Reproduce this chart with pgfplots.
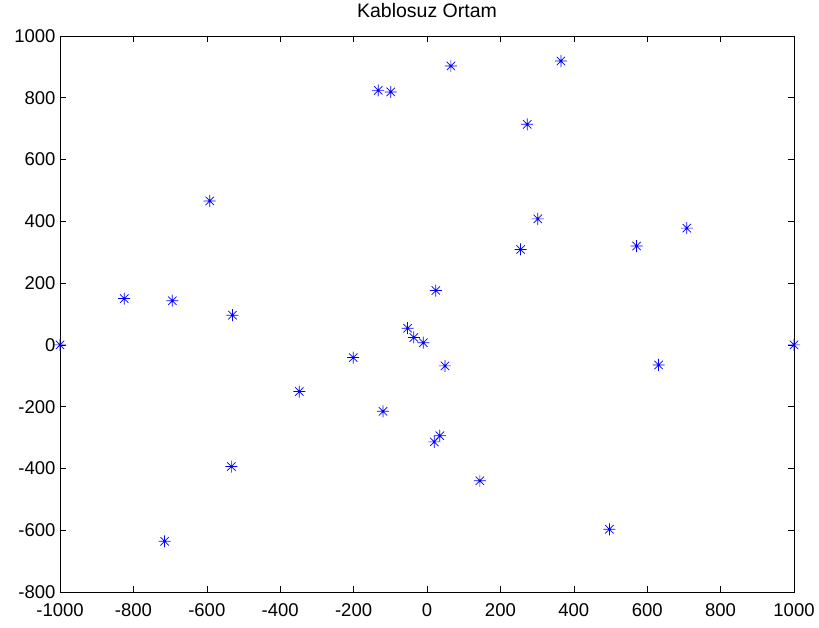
\documentclass[border=0pt]{standalone}
\usepackage{pgfplots}
\pgfplotsset{compat=1.18}
\usepackage{fontspec}
\setmainfont{Liberation Sans}
\pgfdeclareplotmark{mstar}{%
  \pgfpathmoveto{\pgfqpoint{-\pgfplotmarksize}{0pt}}%
  \pgfpathlineto{\pgfqpoint{\pgfplotmarksize}{0pt}}%
  \pgfpathmoveto{\pgfqpoint{0pt}{-\pgfplotmarksize}}%
  \pgfpathlineto{\pgfqpoint{0pt}{\pgfplotmarksize}}%
  \pgfpathmoveto{\pgfqpoint{-0.7\pgfplotmarksize}{-0.7\pgfplotmarksize}}%
  \pgfpathlineto{\pgfqpoint{0.7\pgfplotmarksize}{0.7\pgfplotmarksize}}%
  \pgfpathmoveto{\pgfqpoint{-0.7\pgfplotmarksize}{0.7\pgfplotmarksize}}%
  \pgfpathlineto{\pgfqpoint{0.7\pgfplotmarksize}{-0.7\pgfplotmarksize}}%
  \pgfusepathqstroke}
\begin{document}
\begin{tikzpicture}
\begin{axis}[
  scale only axis, width=734pt, height=556pt,
  xmin=-1000, xmax=1000, ymin=-800, ymax=1000,
  xtick={-1000,-800,...,1000}, ytick={-800,-600,...,1000},
  tick align=inside, major tick length=6pt,
  tick style={black, line width=0.6pt},
  axis line style={line width=0.8pt},
  title={Kablosuz Ortam},
  title style={font=\fontsize{19.5}{22}\selectfont, yshift=9pt},
  tick label style={font=\fontsize{18.5}{20}\selectfont},
  xticklabel style={yshift=-8pt},
  yticklabel style={xshift=-1pt},
  /pgf/number format/assume math mode=true,
  /pgf/number format/1000 sep={},
  clip=false,
]
\addplot[only marks, mark=mstar, color={rgb,255:red,0;green,0;blue,255}, mark size=6pt, line width=0.7pt] coordinates {
(-1000,0) (-825,150) (-694,143) (-592,466) (-530,96) (-533,-394) (-715,-636)
(-348,-151) (-201,-41) (-120,-215) (-133,824) (-99,819) (65,903) (365,919)
(273,714) (302,408) (255,309) (571,320) (708,378) (1000,0) (631,-65)
(497,-597) (144,-440) (24,176) (-53,54) (-36,24) (-10,7) (49,-68)
(35,-294) (20,-314)
};
\end{axis}
\pgfresetboundingbox
\path ([shift={(-60pt,-36pt)}]current axis.south west) rectangle ([shift={(25pt,36pt)}]current axis.north east);
\end{tikzpicture}
\end{document}
